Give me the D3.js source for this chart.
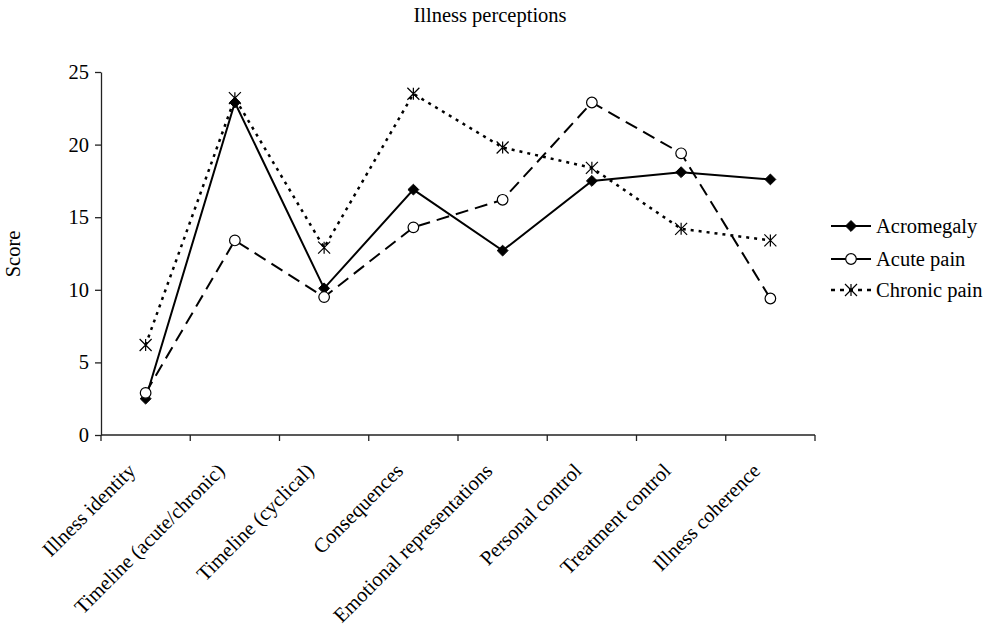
<!DOCTYPE html>
<html>
<head>
<meta charset="utf-8">
<script src="https://cdn.jsdelivr.net/npm/d3@7"></script>
<style>
  html, body { margin: 0; padding: 0; background: #fff; }
  svg { display: block; }
  text { font-family: "Liberation Serif", "Times New Roman", serif; fill: #000; }
</style>
</head>
<body>
<svg id="chart" width="990" height="627"></svg>
<script>
const categories = ["Illness identity", "Timeline (acute/chronic)", "Timeline (cyclical)", "Consequences",
  "Emotional representations", "Personal control", "Treatment control", "Illness coherence"];
const acromegaly = [2.5, 22.9, 10.1, 16.9, 12.7, 17.5, 18.1, 17.6];
const acutePain = [2.9, 13.4, 9.5, 14.3, 16.2, 22.9, 19.4, 9.4];
const chronicPain = [6.2, 23.2, 12.9, 23.5, 19.8, 18.4, 14.2, 13.4];
const yTicks = [0, 5, 10, 15, 20, 25];
const seriesNames = ["Acromegaly", "Acute pain", "Chronic pain"];
const title = "Illness perceptions";
const yLabel = "Score";

const FS = "20.5px";

const series = [
  { name: seriesNames[0], values: acromegaly, dash: null, marker: "diamond" },
  { name: seriesNames[1], values: acutePain, dash: "13,7", marker: "circle" },
  { name: seriesNames[2], values: chronicPain, dash: "3,5", marker: "star" }
];

const svg = d3.select("#chart");
const x = d3.scaleBand().domain(categories).range([101, 815]).padding(0);
const y = d3.scaleLinear().domain([0, 25]).range([435, 72]);
const cx = c => x(c) + x.bandwidth() / 2;

// title
svg.append("text").attr("x", 490).attr("y", 22).attr("text-anchor", "middle")
  .style("font-size", FS).text(title);

// y label
svg.append("text").attr("transform", "translate(20,254) rotate(-90)").attr("text-anchor", "middle")
  .style("font-size", FS).text(yLabel);

// y axis
const yAxis = svg.append("g").attr("transform", "translate(101,0)")
  .call(d3.axisLeft(y).tickValues(yTicks).tickSize(6).tickSizeOuter(0).tickPadding(6));
yAxis.select(".domain").attr("stroke", "#222").attr("stroke-width", 1.3);
yAxis.selectAll(".tick line").attr("stroke", "#222").attr("stroke-width", 1.3);
yAxis.selectAll(".tick text").style("font-size", FS).style("font-family", "Liberation Serif");

// x axis
const xg = svg.append("g");
xg.append("line").attr("x1", x.range()[0]).attr("x2", x.range()[1]).attr("y1", y(0)).attr("y2", y(0))
  .attr("stroke", "#222").attr("stroke-width", 1.3);
const edges = categories.map(c => x(c)).concat([x.range()[1]]);
xg.selectAll(".xt").data(edges).join("line").attr("class", "xt")
  .attr("x1", d => d).attr("x2", d => d).attr("y1", y(0)).attr("y2", y(0) + 6)
  .attr("stroke", "#222").attr("stroke-width", 1.3);
xg.selectAll(".xl").data(categories).join("text").attr("class", "xl")
  .attr("transform", d => `translate(${cx(d) - 9},${y(0) + 37}) rotate(-45)`)
  .attr("text-anchor", "end").style("font-size", FS).text(d => d);

// markers
function drawMarker(g, type, px, py) {
  if (type === "diamond") {
    g.append("path").attr("d", d3.symbol().type(d3.symbolDiamond2).size(75)())
      .attr("transform", `translate(${px},${py})`).attr("fill", "#000").attr("stroke", "#000").attr("stroke-width", 1);
  } else if (type === "circle") {
    g.append("circle").attr("cx", px).attr("cy", py).attr("r", 5.3)
      .attr("fill", "#fff").attr("stroke", "#000").attr("stroke-width", 1.2);
  } else {
    const r = 6;
    const p = d3.path();
    p.moveTo(px - r, py - r); p.lineTo(px + r, py + r);
    p.moveTo(px - r, py + r); p.lineTo(px + r, py - r);
    p.moveTo(px, py - r); p.lineTo(px, py + r);
    g.append("path").attr("d", p.toString()).attr("stroke", "#000").attr("stroke-width", 1.2).attr("fill", "none");
  }
}

const line = d3.line().x((d, i) => cx(categories[i])).y(d => y(d));
series.forEach(s => {
  const g = svg.append("g");
  g.append("path").attr("d", line(s.values)).attr("fill", "none").attr("stroke", "#000")
    .attr("stroke-width", s.marker === "star" ? 2.5 : 2)
    .attr("stroke-dasharray", s.dash);
  s.values.forEach((v, i) => drawMarker(g, s.marker, cx(categories[i]), y(v)));
});

// legend
const legendY = [226, 259, 290];
series.forEach((s, i) => {
  const g = svg.append("g");
  const ly = legendY[i];
  g.append("line").attr("x1", 831).attr("x2", 871).attr("y1", ly).attr("y2", ly)
    .attr("stroke", "#000").attr("stroke-width", s.marker === "star" ? 2.5 : 2)
    .attr("stroke-dasharray", s.marker === "star" ? "4,5" : null);
  drawMarker(g, s.marker, 851, ly);
  g.append("text").attr("x", 876).attr("y", ly + 7).style("font-size", FS).text(s.name);
});
</script>
</body>
</html>
